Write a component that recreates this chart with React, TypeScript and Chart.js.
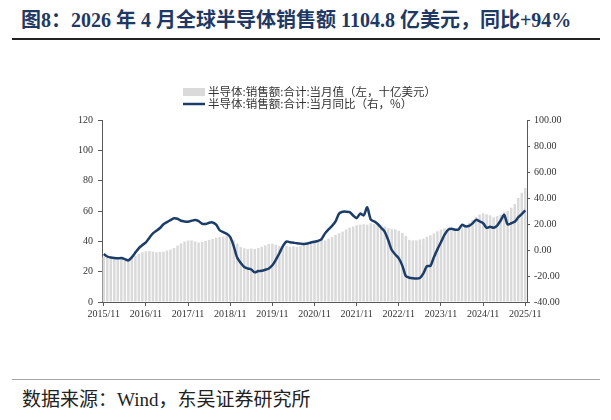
import React, { useEffect, useRef } from "react";
import { Chart, registerables } from "chart.js";

Chart.register(...registerables);

// ---- data ----
const START_YEAR = 2015;
const START_MONTH = 11;
const POINTS = 121;
const categories: string[] = Array.from({ length: POINTS }, (_, i) => {
  const m = START_MONTH - 1 + i;
  const y = START_YEAR + Math.floor(m / 12);
  return `${y}/${(m % 12) + 1}`;
});

const tickLabels: string[] = [
  "2015/11", "2016/11", "2017/11", "2018/11", "2019/11", "2020/11",
  "2021/11", "2022/11", "2023/11", "2024/11", "2025/11",
];

// monthly sales (left axis, billion USD)
const salesValues: number[] = [
  29.8, 29.5, 28.8, 28.4, 28.5, 28.4, 28.5, 28.8, 29.5, 30.5, 31.8, 32.8,
  33.4, 33.6, 33.2, 32.8, 33.0, 33.2, 34.0, 34.6, 35.6, 37.2, 38.6, 39.8,
  40.5, 40.6, 40.0, 39.3, 39.6, 40.2, 41.0, 41.6, 42.4, 42.8, 43.2, 43.6,
  43.0, 40.8, 38.6, 36.2, 35.4, 35.0, 35.2, 35.0, 35.6, 36.4, 37.4, 38.2,
  38.4, 37.8, 36.8, 36.2, 36.8, 36.4, 36.8, 36.4, 36.9, 37.8, 39.0, 40.0,
  40.4, 40.6, 40.9, 40.6, 41.8, 42.8, 44.2, 45.3, 46.4, 47.8, 49.0, 49.8,
  50.6, 51.0, 51.2, 51.0, 52.0, 51.4, 51.8, 51.0, 49.8, 48.6, 48.2, 47.9,
  47.0, 45.6, 43.5, 41.0, 40.6, 40.6, 41.2, 41.8, 43.0, 44.0, 45.2, 46.6,
  47.8, 48.5, 48.0, 47.2, 47.8, 47.4, 49.8, 51.0, 52.4, 54.2, 56.2, 57.6,
  58.5, 57.8, 57.2, 55.8, 56.6, 57.6, 59.4, 60.2, 62.2, 64.6, 68.6, 72.0,
  75.2,
];

// YoY (right axis, %)
const yoyValues: number[] = [
  -3.0, -5.0, -5.8, -6.2, -6.4, -6.2, -7.0, -8.0, -5.5, -2.0, 1.5, 3.8,
  5.8, 9.5, 12.8, 14.8, 16.9, 19.8, 21.5, 23.0, 24.4, 24.0, 22.5, 22.0,
  21.8, 22.5, 23.0, 22.2, 20.2, 20.0, 21.0, 21.2, 19.5, 15.2, 13.8, 12.5,
  10.0, 3.0, -6.0, -10.0, -13.0, -14.2, -15.0, -17.2, -16.2, -16.0, -15.2, -14.2,
  -11.8, -7.5, -2.5, 3.0, 6.5, 6.0, 5.6, 5.2, 4.9, 4.7, 5.0, 5.8,
  6.3, 7.0, 8.4, 12.8, 15.9, 18.5, 22.0, 28.0, 29.4, 29.5, 29.2, 26.5,
  24.5, 28.0, 26.6, 32.8, 23.5, 22.0, 20.0, 17.0, 14.0, 7.5, 0.0, -3.5,
  -6.5, -12.0, -20.0, -21.3, -21.8, -22.0, -21.6, -18.0, -12.4, -12.2, -5.5, 0.5,
  6.0, 11.6, 15.5, 16.3, 15.6, 15.8, 19.4, 18.2, 18.6, 20.5, 23.2, 22.1,
  20.7, 17.1, 17.9, 17.1, 18.8, 22.7, 27.0, 19.6, 20.6, 21.7, 25.1, 27.6,
  30.5,
];

const seriesNames: string[] = [
  "半导体:销售额:合计:当月值（左，十亿美元）",
  "半导体:销售额:合计:当月同比（右，%）",
];

const BAR_COLOR = "#dadada";
const LINE_COLOR = "#1c3d69";
const AXIS_COLOR = "#595959";
const TEXT_COLOR = "#333333";
const SERIF = '"Liberation Serif", "Times New Roman", serif';

const legendPlugin = {
  id: "customLegend",
  afterDraw(chart: any) {
    const ctx = chart.ctx as CanvasRenderingContext2D;
    const x0 = 183;
    const y1 = 92;
    const y2 = 104;
    ctx.save();
    ctx.fillStyle = BAR_COLOR;
    ctx.fillRect(x0, y1 - 4, 22, 8);
    ctx.strokeStyle = LINE_COLOR;
    ctx.lineWidth = 2.5;
    ctx.beginPath();
    ctx.moveTo(x0, y2);
    ctx.lineTo(x0 + 22, y2);
    ctx.stroke();
    ctx.fillStyle = TEXT_COLOR;
    ctx.font = '11.5px "Noto Sans CJK SC", sans-serif';
    ctx.textBaseline = "middle";
    ctx.textAlign = "left";
    ctx.fillText(seriesNames[0], x0 + 25, y1);
    ctx.fillText(seriesNames[1], x0 + 25, y2);
    ctx.restore();
  },
};

function ChartView() {
  const ref = useRef<HTMLCanvasElement | null>(null);
  useEffect(() => {
    if (!ref.current) return;
    const chart = new Chart(ref.current, {
      type: "bar",
      data: {
        labels: categories,
        datasets: [
          {
            type: "line",
            label: seriesNames[1],
            data: yoyValues,
            yAxisID: "y1",
            borderColor: LINE_COLOR,
            backgroundColor: LINE_COLOR,
            borderWidth: 2.5,
            pointRadius: 0,
            tension: 0.25,
            order: 1,
          },
          {
            type: "bar",
            label: seriesNames[0],
            data: salesValues,
            yAxisID: "y",
            backgroundColor: BAR_COLOR,
            barPercentage: 0.72,
            categoryPercentage: 1,
            order: 2,
          },
        ],
      },
      options: {
        responsive: false,
        animation: false,
        devicePixelRatio: 1,
        layout: { padding: { left: 62, right: 40, top: 120, bottom: 14 } },
        plugins: {
          legend: { display: false },
          tooltip: { enabled: false },
        },
        scales: {
          x: {
            type: "category",
            offset: true,
            grid: {
              offset: false,
              drawOnChartArea: false,
              tickLength: 4,
              color: (c: any) => (c.index % 12 === 0 ? AXIS_COLOR : "rgba(0,0,0,0)"),
            },
            border: { color: AXIS_COLOR, width: 1 },
            ticks: {
              autoSkip: false,
              maxRotation: 0,
              minRotation: 0,
              padding: 2,
              color: TEXT_COLOR,
              font: { family: SERIF, size: 10 },
              callback: (_v: any, i: number) => (i % 12 === 0 ? tickLabels[i / 12] : ""),
            },
            afterFit: (s: any) => {
              s.height = 24;
            },
          },
          y: {
            position: "left",
            min: 0,
            max: 120,
            grid: { drawOnChartArea: false, tickLength: 4, color: AXIS_COLOR },
            border: { color: AXIS_COLOR, width: 1 },
            ticks: {
              stepSize: 20,
              padding: 5,
              color: TEXT_COLOR,
              font: { family: SERIF, size: 10 },
            },
            afterFit: (s: any) => {
              s.width = 40;
            },
          },
          y1: {
            position: "right",
            min: -40,
            max: 100,
            grid: { drawOnChartArea: false, tickLength: 3, color: AXIS_COLOR },
            border: { color: AXIS_COLOR, width: 1 },
            ticks: {
              stepSize: 20,
              padding: 4,
              color: TEXT_COLOR,
              font: { family: SERIF, size: 10 },
              callback: (v: any) => Number(v).toFixed(2),
            },
            afterFit: (s: any) => {
              s.width = 44;
            },
          },
        },
      },
      plugins: [legendPlugin],
    } as any);
    return () => chart.destroy();
  }, []);
  return (
    <canvas
      ref={ref}
      width={611}
      height={340}
      style={{ position: "absolute", left: 0, top: 0, width: 611, height: 340, display: "block" }}
    />
  );
}

export default function App() {
  return (
    <div
      style={{
        position: "absolute",
        left: 0,
        top: 0,
        width: 611,
        height: 420,
        background: "#ffffff",
        overflow: "hidden",
      }}
    >
      <div
        style={{
          position: "absolute",
          left: 21,
          top: 7,
          fontFamily: '"Liberation Serif", "Noto Sans CJK SC", serif',
          fontWeight: 700,
          fontSize: 20,
          color: "#1f3864",
          whiteSpace: "nowrap",
          lineHeight: "26px",
        }}
      >
        图8：2026 年 4 月全球半导体销售额 1104.8 亿美元，同比+94%
      </div>
      <div
        style={{
          position: "absolute",
          left: 12,
          top: 38,
          width: 588,
          height: 2,
          background: "#222222",
        }}
      />
      <ChartView />
      <div
        style={{
          position: "absolute",
          left: 12,
          top: 379,
          width: 588,
          height: 1,
          background: "#a6a6a6",
        }}
      />
      <div
        style={{
          position: "absolute",
          left: 22,
          top: 388,
          fontFamily: '"Liberation Serif", "Noto Sans CJK SC", serif',
          fontSize: 19,
          color: "#222222",
          whiteSpace: "nowrap",
          lineHeight: "24px",
        }}
      >
        数据来源：Wind，东吴证券研究所
      </div>
    </div>
  );
}
